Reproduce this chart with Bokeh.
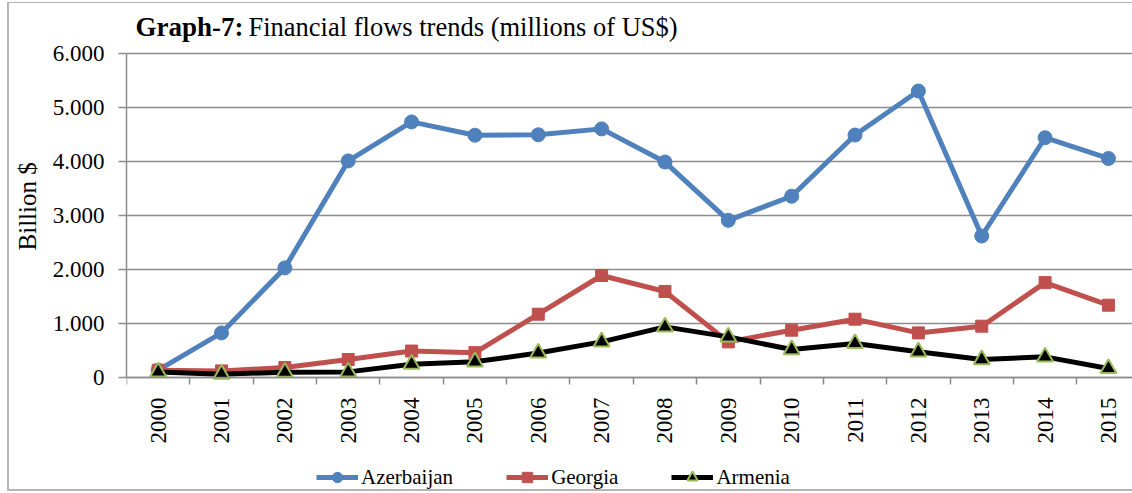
import math
from bokeh.plotting import figure
from bokeh.models import (Range1d, FixedTicker, Legend, LegendItem, Label,
                          ColumnDataSource)
from bokeh.embed import file_html
from bokeh.resources import INLINE

years = [2000, 2001, 2002, 2003, 2004, 2005, 2006, 2007,
         2008, 2009, 2010, 2011, 2012, 2013, 2014, 2015]
azerbaijan = [135, 826, 2030, 4011, 4733, 4487, 4495, 4604,
              3990, 2910, 3357, 4490, 5305, 2620, 4440, 4056]
georgia = [135, 122, 185, 333, 490, 460, 1172, 1889,
           1593, 660, 876, 1080, 826, 950, 1757, 1339]
armenia = [104, 61, 98, 104, 246, 290, 455, 660,
           937, 752, 518, 630, 475, 333, 382, 167]

y_ticks = [0, 1000, 2000, 3000, 4000, 5000, 6000]
y_tick_labels = ["0", "1.000", "2.000", "3.000", "4.000", "5.000", "6.000"]
year_labels = [str(y) for y in years]

title_bold = "Graph-7:"
title_rest = "Financial flows trends (millions of US$)"
y_axis_title = "Billion $"
series_names = ["Azerbaijan", "Georgia", "Armenia"]

FONT = "Liberation Serif"
GRID = "#8c8c8c"
FRAME_EDGE = "#b4b4b4"

# The plotting frame fills the canvas height; the x axis is pinned at y=0 so
# the title, year labels and legend all sit inside the frame area.
p = figure(width=1132, height=493, frame_width=1006, frame_height=493,
           output_backend="svg", toolbar_location=None,
           x_range=Range1d(1999.5, 2015.38), y_range=Range1d(-2148.15, 6981.5),
           min_border_left=126, min_border_right=0, min_border_top=0,
           min_border_bottom=0)
p.outline_line_color = None
p.background_fill_color = None
p.border_fill_color = None
# thin grey chart-area border (left, top, bottom) as in the source figure
p.styles = {"box-shadow": ("inset 0 2px 0 0 #fff, inset 7px 0 0 0 #fff, "
                           "inset 0 -2px 0 0 #fff, "
                           "inset 0 3px 0 0 %s, inset 9px 0 0 0 %s, "
                           "inset 0 -4px 0 0 %s") % (FRAME_EDGE, FRAME_EDGE,
                                                     FRAME_EDGE),
            "background-color": "white"}

# x axis (pinned to the zero line)
xa = p.xaxis[0]
xa.fixed_location = 0
xa.ticker = FixedTicker(ticks=years,
                        minor_ticks=[y - 0.5 for y in years] + [years[-1] + 0.5])
xa.major_label_overrides = {y: l for y, l in zip(years, year_labels)}
xa.major_label_orientation = math.pi / 2
xa.major_tick_out = 0
xa.major_tick_in = 0
xa.minor_tick_in = 0
xa.minor_tick_out = 7
xa.minor_tick_line_color = GRID
xa.minor_tick_line_width = 1.5
xa.axis_line_color = GRID
xa.axis_line_width = 1.5
xa.major_label_standoff = 13
xa.major_label_text_font = FONT
xa.major_label_text_font_size = "23px"
xa.major_label_text_color = "black"

# y axis
ya = p.yaxis[0]
ya.ticker = FixedTicker(ticks=y_ticks)
ya.bounds = (y_ticks[0], y_ticks[-1])
ya.major_label_overrides = {t: l for t, l in zip(y_ticks, y_tick_labels)}
ya.major_tick_out = 8
ya.major_tick_in = 0
ya.minor_tick_out = 0
ya.minor_tick_in = 0
ya.major_tick_line_color = GRID
ya.major_tick_line_width = 1.5
ya.axis_line_color = GRID
ya.axis_line_width = 1.5
ya.major_label_standoff = 14
ya.major_label_text_font = FONT
ya.major_label_text_font_size = "23px"
ya.major_label_text_color = "black"
# leading no-break spaces lift the visible words to the middle of the value axis
ya.axis_label = "\u00a0" * 13 + y_axis_title
ya.axis_label_text_font = FONT
ya.axis_label_text_font_size = "25px"
ya.axis_label_text_font_style = "normal"
ya.axis_label_text_color = "black"
ya.axis_label_standoff = 9

p.xgrid.grid_line_color = None
p.ygrid.grid_line_color = GRID
p.ygrid.grid_line_width = 1.5

src = ColumnDataSource(dict(x=years, az=azerbaijan, ge=georgia, ar=armenia))

l1 = p.line("x", "az", source=src, line_color="#4F81BD", line_width=5)
m1 = p.scatter("x", "az", source=src, marker="circle", size=14,
               fill_color="#4F81BD", line_color="#4F81BD")
l2 = p.line("x", "ge", source=src, line_color="#C0504D", line_width=5)
m2 = p.scatter("x", "ge", source=src, marker="square", size=12,
               fill_color="#C0504D", line_color="#C0504D")
l3 = p.line("x", "ar", source=src, line_color="black", line_width=5)
m3 = p.scatter("x", "ar", source=src, marker="triangle", size=16,
               fill_color="black", line_color="#9BBB59", line_width=2)

legend = Legend(items=[LegendItem(label=series_names[0], renderers=[l1, m1]),
                       LegendItem(label=series_names[1], renderers=[l2, m2]),
                       LegendItem(label=series_names[2], renderers=[l3, m3])],
                orientation="horizontal", location=(190, 3),
                glyph_width=42, glyph_height=26, label_height=20,
                label_standoff=3, spacing=53, padding=0, margin=0,
                border_line_color=None, background_fill_alpha=0,
                label_text_font=FONT, label_text_font_size="21px",
                label_text_color="black")
p.add_layout(legend, "center")

t1 = Label(x=9, y=467, x_units="screen", y_units="screen", text=title_bold,
           text_font=FONT, text_font_size="27px", text_font_style="bold",
           text_baseline="alphabetic", text_color="black")
t2 = Label(x=122, y=467, x_units="screen", y_units="screen", text=title_rest,
           text_font=FONT, text_font_size="26.5px", text_baseline="alphabetic",
           text_color="black")
p.add_layout(t1)
p.add_layout(t2)

open("out.html", "w").write(file_html(p, INLINE))
